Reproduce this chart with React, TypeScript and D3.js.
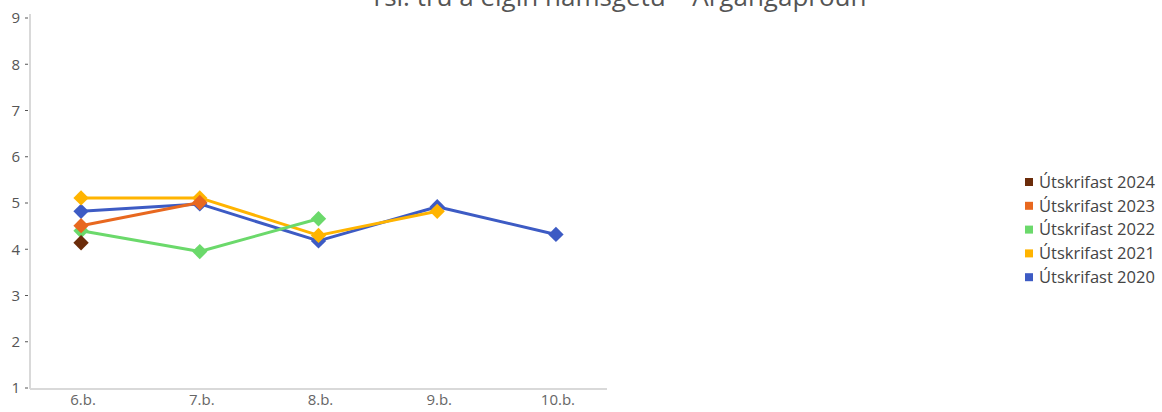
import React from 'react';
import * as d3 from 'd3';

// grade categories on the x axis
const grades = ['6.b.', '7.b.', '8.b.', '9.b.', '10.b.'];
const yTicks = [1, 2, 3, 4, 5, 6, 7, 8, 9];

// one array per graduating cohort, values by grade (null = no data)
const cohort2024 = [4.14, null, null, null, null];
const cohort2023 = [4.51, 5.01, null, null, null];
const cohort2022 = [4.4, 3.95, 4.66, null, null];
const cohort2021 = [5.11, 5.11, 4.3, 4.82, null];
const cohort2020 = [4.82, 4.98, 4.18, 4.92, 4.32];

const seriesNames = ['Útskrifast 2024', 'Útskrifast 2023', 'Útskrifast 2022', 'Útskrifast 2021', 'Útskrifast 2020'];
const seriesColors = ['#6b2c0a', '#e8681f', '#6bd96b', '#ffb400', '#3d5bc4'];
const seriesValues = [cohort2024, cohort2023, cohort2022, cohort2021, cohort2020];

const title = 'rsl. trú á eigin námsgetu – Árgangaþróun';

const width = 1162;
const height = 412;
const font = '"Open Sans", "Noto Sans", sans-serif';

export default function App() {
  const x = d3.scalePoint<string>().domain(grades).range([30, 607]).padding(0.43);
  const y = d3.scaleLinear().domain([1, 9]).range([388, 18]);

  const line = d3.line<number | null>()
    .defined(d => d != null)
    .x((_, i) => x(grades[i]) as number)
    .y(d => y(d as number));

  const diamond = d3.symbol().type(d3.symbolDiamond2).size(150)();

  // draw oldest cohort first so newer ones sit on top
  const order = [4, 3, 2, 1, 0];

  return (
    <svg width={width} height={height} style={{ position: 'absolute', left: 0, top: 0, fontFamily: font }}>
      <text x={620} y={6} textAnchor="middle" fontSize={26} fill="#555">{title}</text>

      {/* axes */}
      <line x1={30} x2={30} y1={14} y2={389} stroke="#d9d9d9" strokeWidth={2} />
      <line x1={30} x2={607} y1={389} y2={389} stroke="#d9d9d9" strokeWidth={2} />

      {yTicks.map(t => (
        <g key={t} transform={`translate(0,${y(t)})`}>
          <line x1={25} x2={28} stroke="#555" strokeWidth={1} />
          <text x={20} dy="0.35em" textAnchor="end" fontSize={15} fill="#555">{t}</text>
        </g>
      ))}

      {grades.map(g => (
        <text key={g} x={(x(g) as number) + 2} y={405} textAnchor="middle" fontSize={15} fill="#666">{g}</text>
      ))}

      {order.map(si => (
        <g key={si}>
          <path d={line(seriesValues[si]) || ''} fill="none" stroke={seriesColors[si]} strokeWidth={3} strokeLinejoin="round" />
          {seriesValues[si].map((v, i) => v == null ? null : (
            <path key={i} d={diamond || ''} transform={`translate(${x(grades[i])},${y(v)})`} fill={seriesColors[si]} />
          ))}
        </g>
      ))}

      {/* legend */}
      {seriesNames.map((name, i) => (
        <g key={name} transform={`translate(1025,${182 + i * 23.8})`}>
          <rect x={0} y={-4} width={8} height={8} fill={seriesColors[i]} />
          <text x={14} dy="0.35em" fontSize={16.5} fill="#444">{name}</text>
        </g>
      ))}
    </svg>
  );
}
